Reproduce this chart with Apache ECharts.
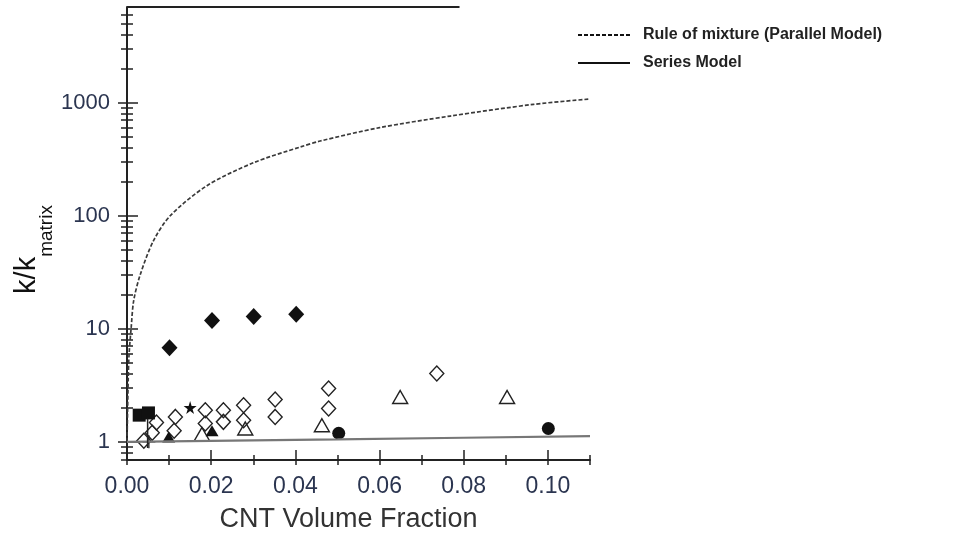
<!DOCTYPE html>
<html><head><meta charset="utf-8">
<script src="https://cdn.jsdelivr.net/npm/echarts@6/dist/echarts.min.js"></script>
<style>html,body{margin:0;padding:0;background:#fff}#c{width:964px;height:535px}</style>
</head><body><div id="c"></div>
<script>
// ---- tick values ----
const xTickMajor = [0, 0.02, 0.04, 0.06, 0.08, 0.10];
const xTickMinor = [0.01, 0.03, 0.05, 0.07, 0.09, 0.11];
const yTickMajor = [1, 10, 100, 1000];
const yTickMinor = [0.7, 0.8, 0.9, 2, 3, 4, 5, 6, 7, 8, 9, 20, 30, 40, 50, 60, 70, 80, 90,
  200, 300, 400, 500, 600, 700, 800, 900, 2000, 3000, 4000, 5000, 6000];

// ---- model curves ----
const parallelX = [0, 0.0003, 0.0005, 0.001, 0.0016, 0.0032, 0.0063, 0.0103, 0.019, 0.0301, 0.0412, 0.0459, 0.06, 0.0768, 0.0966, 0.11];
const parallelY = [1, 3.7, 6, 10.3, 17.8, 30.5, 60, 100, 184, 294, 405, 457, 600, 760, 964, 1075];
const seriesModelX = [0, 0.02, 0.05, 0.08, 0.11];
const seriesModelY = [1, 1.02, 1.05, 1.085, 1.12];

// ---- experimental points ----
const filledDiamondX = [0.0101, 0.0202, 0.0301, 0.0402];
const filledDiamondY = [6.8, 11.8, 12.8, 13.4];
const openDiamondX = [0.0040, 0.0060, 0.0070, 0.0112, 0.0115, 0.0186, 0.0186, 0.0229, 0.0229, 0.0277, 0.0277, 0.0352, 0.0352, 0.0479, 0.0479, 0.0736];
const openDiamondY = [1.02, 1.2, 1.48, 1.25, 1.66, 1.9, 1.45, 1.9, 1.5, 2.1, 1.55, 2.37, 1.66, 2.96, 1.97, 4.01];
const openTriangleX = [0.0178, 0.0281, 0.0463, 0.0649, 0.0903];
const openTriangleY = [1.17, 1.31, 1.40, 2.49, 2.49];
const filledTriangleX = [0.0099, 0.0202];
const filledTriangleY = [1.1, 1.25];
const filledCircleX = [0.0503, 0.1001];
const filledCircleY = [1.19, 1.31];
const squareX = [0.0029, 0.0051];
const squareY = [1.72, 1.8];
const starX = [0.015];
const starY = [2.01];
const plusX = [0.0052];
const plusY = [1.0];
const errBarX = [0.0049, 0.0049];
const errBarY = [0.88, 1.6];
const topBorderX = [0, 0.079];
const topBorderY = [7000, 7000];

const zip = (xs, ys) => xs.map((x, i) => [x, ys[i]]);
const FONT = 'Liberation Sans, Arial, sans-serif';
const LBL = '#2b3550';
const INK = '#222';

function xAx(ticks, len, inside, main) {
  return {
    type: 'value', min: 0, max: 0.11, position: 'bottom',
    axisLine: { show: main, onZero: false, lineStyle: { color: INK, width: 2 } },
    axisTick: { show: true, customValues: ticks, length: len, inside: inside, lineStyle: { color: INK, width: 1.5 } },
    axisLabel: main ? { show: true, customValues: xTickMajor, margin: 15, fontSize: 23, color: LBL, fontFamily: FONT,
      formatter: v => v.toFixed(2) } : { show: false },
    splitLine: { show: false },
    name: main ? 'CNT Volume Fraction' : '',
    nameLocation: 'middle', nameGap: 46,
    nameTextStyle: { fontSize: 27, color: '#333', fontFamily: FONT, padding: [0, 20, 0, 0] }
  };
}
function yAx(ticks, len, inside, main) {
  return {
    type: 'log', logBase: 10, min: 0.69, max: 7000, position: 'left',
    axisLine: { show: main, onZero: false, lineStyle: { color: INK, width: 2 } },
    axisTick: { show: true, customValues: ticks, length: len, inside: inside, lineStyle: { color: INK, width: 1.5 } },
    axisLabel: main ? { show: true, customValues: yTickMajor, margin: 17, fontSize: 22, color: LBL, fontFamily: FONT,
      formatter: v => String(Math.round(v)) } : { show: false },
    splitLine: { show: false },
    name: main ? '{a|k/k}{b|matrix}' : '',
    nameLocation: 'middle', nameGap: 71,
    nameTextStyle: {
      fontFamily: FONT, color: '#111', padding: [0, 32, 0, 0],
      rich: {
        a: { fontSize: 29, fontFamily: FONT, color: '#111', lineHeight: 32, verticalAlign: 'top' },
        b: { fontSize: 19, fontFamily: FONT, color: '#111', lineHeight: 44, verticalAlign: 'bottom' }
      }
    }
  };
}

const openStyle = { color: 'rgba(0,0,0,0)', borderColor: '#222', borderWidth: 1.4, opacity: 1 };
const solid = c => ({ color: c, opacity: 1 });
const STAR = 'path://M50,0 L61,35 L98,35 L68,57 L79,91 L50,70 L21,91 L32,57 L2,35 L39,35 Z';
const PLUS = 'path://M45,0 L55,0 L55,45 L100,45 L100,55 L55,55 L55,100 L45,100 L45,55 L0,55 L0,45 L45,45 Z';
const DASH_ICON = 'path://M0,0h4v2h-4z M6,0h4v2h-4z M12,0h4v2h-4z M18,0h4v2h-4z M24,0h4v2h-4z M30,0h4v2h-4z M36,0h4v2h-4z M42,0h4v2h-4z M48,0h4v2h-4z';
const SOLID_ICON = 'path://M0,0h52v2h-52z';

const option = {
  animation: false,
  backgroundColor: '#fff',
  grid: { left: 127, right: 374, top: 7, bottom: 75, containLabel: false, outerBoundsMode: 'none' },
  legend: {
    orient: 'vertical', left: 573, top: 22, itemWidth: 52, itemHeight: 2, itemGap: 12,
    textStyle: { fontFamily: FONT, fontWeight: 'bold', fontSize: 16, color: '#222', padding: [0, 0, 0, 8] },
    data: [
      { name: 'Rule of mixture (Parallel Model)', icon: DASH_ICON, itemStyle: { color: '#111' } },
      { name: 'Series Model', icon: SOLID_ICON, itemStyle: { color: '#111' } }
    ]
  },
  xAxis: [
    xAx(xTickMajor, 5, false, true),
    xAx(xTickMajor, 10, true, false),
    xAx(xTickMinor, 5, false, false),
    xAx(xTickMinor, 5, true, false)
  ],
  yAxis: [
    yAx(yTickMajor, 9, false, true),
    yAx(yTickMajor, 11, true, false),
    yAx(yTickMinor, 6, false, false),
    yAx(yTickMinor, 6, true, false)
  ],
  series: [
    { name: 'topBorder', type: 'line', data: zip(topBorderX, topBorderY), symbol: 'none', clip: false,
      lineStyle: { color: INK, width: 2 }, silent: true },
    { name: 'Rule of mixture (Parallel Model)', type: 'line', data: zip(parallelX, parallelY), symbol: 'none', smooth: 0.3,
      lineStyle: { color: '#3a3a3a', width: 1.7, type: [4, 2] }, itemStyle: { color: '#444' } },
    { name: 'Series Model', type: 'line', data: zip(seriesModelX, seriesModelY), symbol: 'none',
      lineStyle: { color: '#777', width: 2.2 }, itemStyle: { color: '#111' } },
    { name: 'errbar', type: 'line', data: zip(errBarX, errBarY), symbol: 'none', lineStyle: { color: '#222', width: 1.5 } },
    { name: 'openTriangle', type: 'scatter', data: zip(openTriangleX, openTriangleY), symbol: 'triangle', symbolSize: [15, 13], itemStyle: openStyle },
    { name: 'openDiamond', type: 'scatter', data: zip(openDiamondX, openDiamondY), symbol: 'diamond', symbolSize: [14, 15], itemStyle: openStyle },
    { name: 'filledTriangle', type: 'scatter', data: zip(filledTriangleX, filledTriangleY), symbol: 'triangle', symbolSize: [13, 11], itemStyle: solid('#111') },
    { name: 'filledDiamond', type: 'scatter', data: zip(filledDiamondX, filledDiamondY), symbol: 'diamond', symbolSize: [16, 17], itemStyle: solid('#111') },
    { name: 'filledCircle', type: 'scatter', data: zip(filledCircleX, filledCircleY), symbol: 'circle', symbolSize: 13, itemStyle: solid('#111') },
    { name: 'square', type: 'scatter', data: zip(squareX, squareY), symbol: 'rect', symbolSize: 13, itemStyle: solid('#111') },
    { name: 'star', type: 'scatter', data: zip(starX, starY), symbol: STAR, symbolSize: 13, itemStyle: solid('#111') },
    { name: 'plus', type: 'scatter', data: zip(plusX, plusY), symbol: PLUS, symbolSize: 13, itemStyle: solid('#222') }
  ]
};
const chart = echarts.init(document.getElementById('c'), null, { renderer: 'canvas' });
chart.setOption(option);
</script>
</body></html>
